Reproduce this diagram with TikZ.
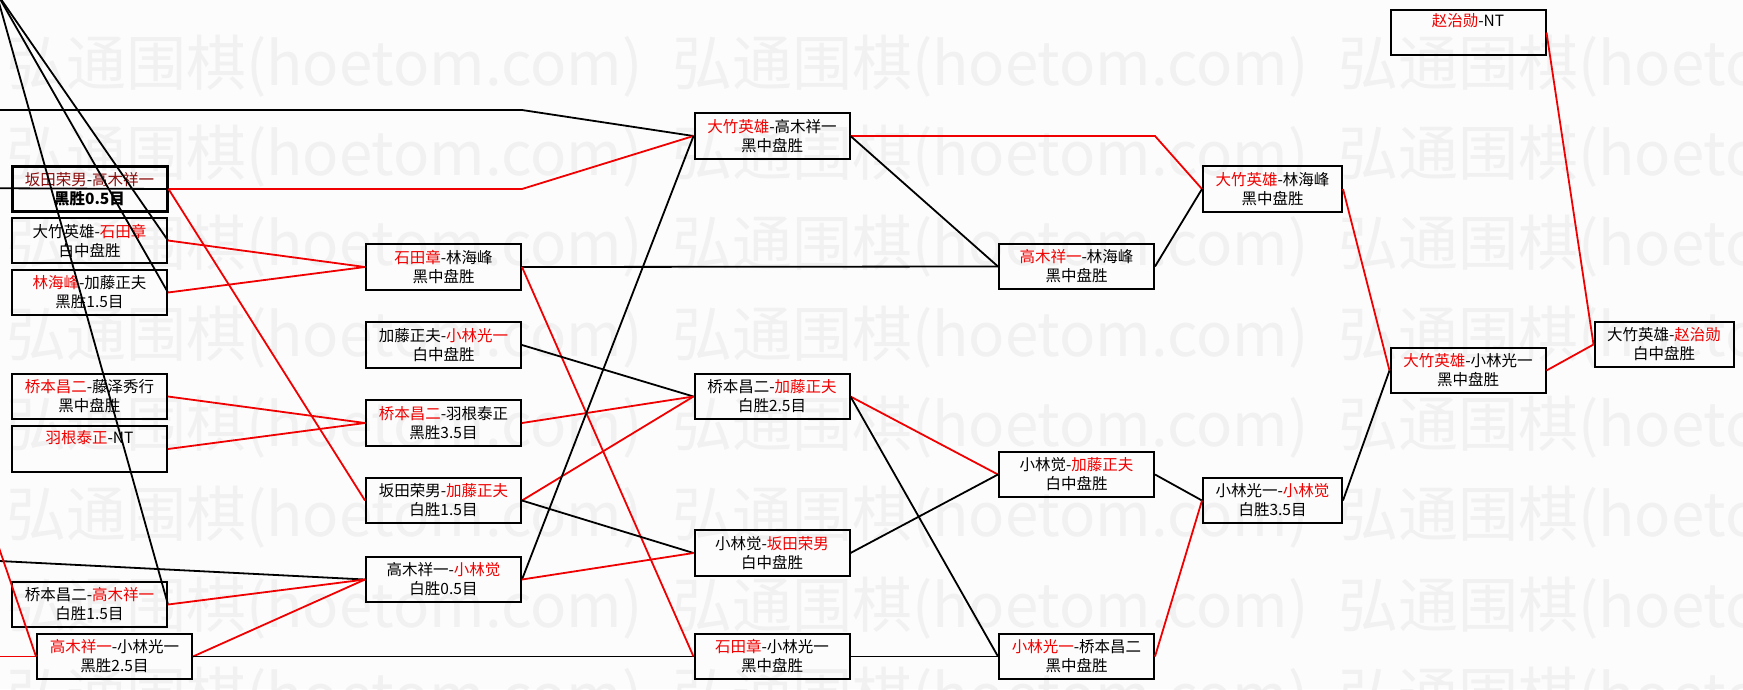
\documentclass[tikz,border=0pt]{standalone}
\usepackage{fontspec}
\setmainfont{Noto Sans CJK SC}
\usetikzlibrary{calc}
\definecolor{ink}{HTML}{000000}
\definecolor{wincol}{HTML}{F00000}
\definecolor{dupcol}{HTML}{8A0A0A}
\definecolor{markcol}{HTML}{F1F1F1}
\definecolor{bgcol}{HTML}{FCFCFC}
\newcommand{\wn}[1]{\textcolor{wincol}{#1}}

\begin{document}
\begin{tikzpicture}[x=1pt, y=-1pt, line join=miter,
  game/.style={draw=ink, line width=2pt, minimum width=155pt,
               minimum height=45.5pt, inner sep=0pt, align=center,
               font=\fontsize{15.5}{19}\selectfont, text=ink},
  narrow/.style={game, minimum width=139pt},
  dup/.style={game, line width=3pt},
  won/.style={draw=wincol, line width=1.8pt},
  lost/.style={draw=ink, line width=1.8pt},
  wmark/.style={text=markcol, font=\fontsize{60}{60}\selectfont,
                anchor=west, inner sep=0pt}]

\useasboundingbox (0,0) rectangle (1743,689);
\fill[bgcol] (0,0) rectangle (1743,689);
\clip (0,0) rectangle (1743,689);

\def\xa{89.5}     % first round shown
\def\xb{443.5}    % second
\def\xc{772}      % third
\def\xd{1076.5}   % fourth
\def\xe{1272.5}   % semi
\def\xf{1468}     % challenger
\def\xg{1664}     % title

% ---------------------------------------------------------------- watermark
\foreach \r in {0,...,7}
  \foreach \c in {0,1,2}
    \node[wmark] (wm\r\c) at ({6+666*\c},{66+90.3*\r}) {弘通围棋(hoetom.com)};

% ---------------------------------------------------------------- free ends
\coordinate (o1) at (-4,-8);
\coordinate (o2) at (-60,110);
\coordinate (o3) at (-60,188);
\coordinate (o4) at (-60,558);
\coordinate (o5) at (-20,492);
\coordinate (o6) at (-60,656.5);

% ================================================================ round a
\node[dup]  (a1) at (\xa,189)   {\textcolor{dupcol}{坂田荣男}-\textcolor{dupcol}{高木祥一}\\ \textbf{黑胜0.5目}};
\node[game] (a2) at (\xa,240.5) {大竹英雄-\wn{石田章}\\白中盘胜};
\node[game] (a3) at (\xa,292.5) {\wn{林海峰}-加藤正夫\\黑胜1.5目};
\node[game] (a4) at (\xa,396.5) {\wn{桥本昌二}-藤泽秀行\\黑中盘胜};
\node[game] (a5) at (\xa,449)   {\wn{羽根泰正}-NT\\ \strut};
\node[game] (a6) at (\xa,604.5) {桥本昌二-\wn{高木祥一}\\白胜1.5目};
\node[game] (a7) at (114.5,656.5) {\wn{高木祥一}-小林光一\\黑胜2.5目};

% ================================================================ round b
\node[game] (b1) at (\xb,267)   {\wn{石田章}-林海峰\\黑中盘胜};
\node[game] (b2) at (\xb,345)   {加藤正夫-\wn{小林光一}\\白中盘胜};
\node[game] (b3) at (\xb,423)   {\wn{桥本昌二}-羽根泰正\\黑胜3.5目};
\node[game] (b4) at (\xb,500.5) {坂田荣男-\wn{加藤正夫}\\白胜1.5目};
\node[game] (b5) at (\xb,579.5) {高木祥一-\wn{小林觉}\\白胜0.5目};

% ================================================================ round c
\node[game] (c1) at (\xc,136)   {\wn{大竹英雄}-高木祥一\\黑中盘胜};
\node[game] (c2) at (\xc,396.5) {桥本昌二-\wn{加藤正夫}\\白胜2.5目};
\node[game] (c3) at (\xc,553)   {小林觉-\wn{坂田荣男}\\白中盘胜};
\node[game] (c4) at (\xc,656.5) {\wn{石田章}-小林光一\\黑中盘胜};

% ================================================================ round d
\node[game] (d1) at (\xd,266.5) {\wn{高木祥一}-林海峰\\黑中盘胜};
\node[game] (d2) at (\xd,474.5) {小林觉-\wn{加藤正夫}\\白中盘胜};
\node[game] (d3) at (\xd,656.5) {\wn{小林光一}-桥本昌二\\黑中盘胜};

% ================================================================ rounds e to g
\node[narrow] (e1) at (\xe,189)   {\wn{大竹英雄}-林海峰\\黑中盘胜};
\node[narrow] (e2) at (\xe,500.5) {小林光一-\wn{小林觉}\\白胜3.5目};
\node[game]   (f0) at (\xf,32.5)  {\wn{赵治勋}-NT\\ \strut};
\node[game]   (f1) at (\xf,370.5) {\wn{大竹英雄}-小林光一\\黑中盘胜};
\node[narrow] (g1) at (\xg,344.5) {大竹英雄-\wn{赵治勋}\\白中盘胜};

% ---------------------------------------------------------------- from outside
\draw[lost] (o1) -- (a2.east);
\draw[lost] (o1) -- (a3.east);
\draw[lost] (o1) -- (a6.east);
\draw[lost] (o2) -- (o2 -| b1.east) -- (c1.west);
\draw[lost] (o3) -- (a1.east);
\draw[lost] (o4) -- (b5.west);
\draw[won]  (o5) -- (a7.west);
\draw[won]  (o6) -- (a7.west);

% ---------------------------------------------------------------- a to b
\draw[won]  (a1.east) -- (a1.east -| b1.east) -- (c1.west);
\draw[won]  (a1.east) -- (b4.west);
\draw[won]  (a2.east) -- (b1.west);
\draw[won]  (a3.east) -- (b1.west);
\draw[won]  (a4.east) -- (b3.west);
\draw[won]  (a5.east) -- (b3.west);
\draw[won]  (a6.east) -- (b5.west);
\draw[won]  (a7.east) -- (b5.west);
\draw[lost] (a7.east) -- (c4.west);

% ---------------------------------------------------------------- b to c
\draw[lost] (b1.east) -- (d1.west);
\draw[won]  (b1.east) -- (c4.west);
\draw[lost] (b2.east) -- (c2.west);
\draw[won]  (b3.east) -- (c2.west);
\draw[won]  (b4.east) -- (c2.west);
\draw[lost] (b4.east) -- (c3.west);
\draw[lost] (b5.east) -- (c1.west);
\draw[won]  (b5.east) -- (c3.west);

% ---------------------------------------------------------------- c to d
\draw[won]  (c1.east) -- (c1.east -| d1.east) -- (e1.west);
\draw[lost] (c1.east) -- (d1.west);
\draw[won]  (c2.east) -- (d2.west);
\draw[lost] (c2.east) -- (d3.west);
\draw[lost] (c3.east) -- (d2.west);
\draw[lost] (c4.east) -- (d3.west);

% ---------------------------------------------------------------- d to g
\draw[lost] (d1.east) -- (e1.west);
\draw[lost] (d2.east) -- (e2.west);
\draw[won]  (d3.east) -- (e2.west);
\draw[won]  (e1.east) -- (f1.west);
\draw[lost] (e2.east) -- (f1.west);
\draw[won]  (f0.east) -- (g1.west);
\draw[won]  (f1.east) -- (g1.west);

\end{tikzpicture}
\end{document}
